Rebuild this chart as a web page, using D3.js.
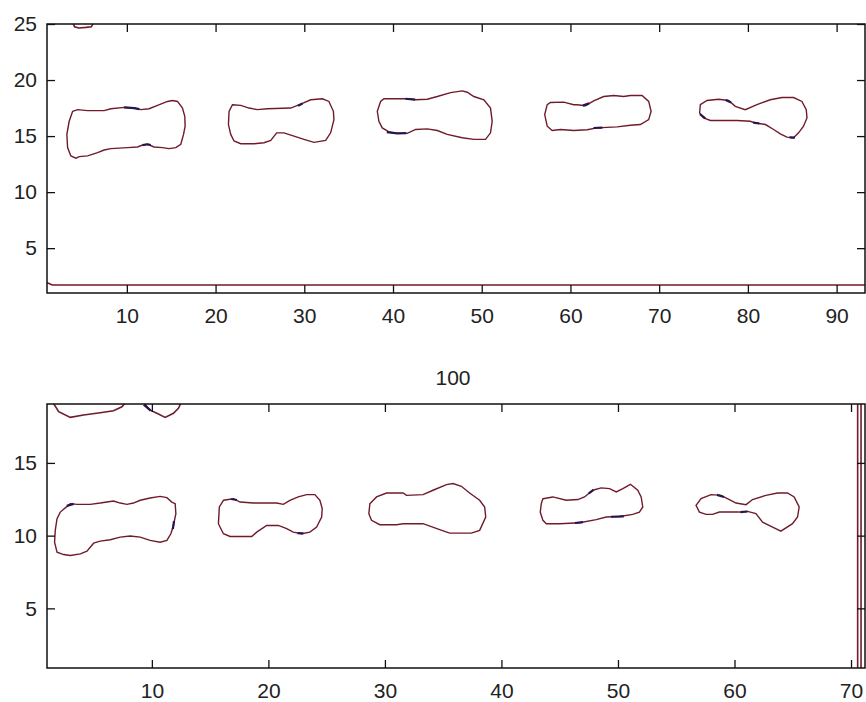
<!DOCTYPE html>
<html>
<head>
  <meta charset="UTF-8">
  <style>
    body { margin: 0; background: #fff; }
    text { font-family: "Liberation Sans", Arial, sans-serif; }
  </style>
</head>
<body>
<script src="https://d3js.org/d3.v7.min.js"></script>
<div id="my_dataviz"></div>
<script>

// ---- data (in axis units) ----
var topXTicks = [10, 20, 30, 40, 50, 60, 70, 80, 90];
var topYTicks = [5, 10, 15, 20, 25];
var botXTicks = [10, 20, 30, 40, 50, 60, 70];
var botYTicks = [5, 10, 15];
var botTitle = "100";

// closed contours, top panel
var topBlob1 = [[3.89,17.21],[4.45,17.36],[5.57,17.27],[7.44,17.27],[8.2,17.44],[9.7,17.56],[10.82,17.5],[11.58,17.36],[12.51,17.44],[13.46,17.74],[14.58,18.09],[15.15,18.18],[15.71,18.09],[16.27,17.5],[16.53,16.77],[16.57,15.88],[16.39,15.15],[16.08,14.27],[15.52,13.97],[14.76,13.88],[14.02,13.97],[13.07,14.03],[12.33,14.27],[11.77,14.2],[11.2,14.03],[10.08,13.97],[8.2,13.88],[7.44,13.76],[6.7,13.53],[5.57,13.23],[4.63,13.17],[4.26,13.03],[3.69,13.23],[3.32,13.97],[3.24,15.15],[3.5,16.32]];
var topBlob2 = [[21.9,17.8],[22.84,17.74],[23.77,17.5],[24.72,17.36],[25.84,17.44],[28.47,17.5],[29.6,17.85],[30.72,18.24],[32.04,18.33],[32.78,18.09],[33.28,17.21],[33.34,16.47],[32.97,15.29],[32.41,14.62],[31.09,14.44],[29.97,14.71],[28.84,15.0],[27.71,15.29],[26.89,15.29],[26.22,14.62],[25.46,14.41],[24.34,14.32],[22.84,14.32],[22.08,14.56],[21.71,15.15],[21.45,16.03],[21.52,17.21]];
var topBlob3 = [[38.98,18.33],[41.6,18.33],[42.55,18.24],[43.86,18.29],[44.99,18.53],[46.49,18.88],[47.8,19.03],[48.37,18.91],[49.11,18.53],[50.24,18.24],[50.99,17.5],[51.18,16.32],[50.99,15.29],[50.43,14.71],[49.11,14.71],[47.8,14.85],[46.11,15.15],[44.99,15.5],[43.86,15.64],[42.55,15.59],[41.6,15.24],[40.48,15.24],[39.54,15.38],[38.79,15.73],[38.41,16.32],[38.23,17.21],[38.6,18.09]];
var topBlob4 = [[57.75,18.0],[59.25,18.03],[60.37,17.8],[60.75,17.8],[61.69,17.71],[62.62,18.15],[63.75,18.53],[64.88,18.62],[66.0,18.53],[66.76,18.62],[68.07,18.62],[68.82,18.09],[69.09,17.21],[68.82,16.47],[67.88,16.03],[66.76,15.97],[65.26,15.82],[63.0,15.73],[61.88,15.56],[60.37,15.5],[58.87,15.59],[57.94,15.5],[57.38,15.88],[57.1,16.92],[57.38,17.8]];
var topBlob5 = [[74.64,17.8],[75.39,18.18],[76.7,18.29],[77.83,18.18],[78.58,17.65],[79.71,17.36],[81.02,17.8],[82.52,18.24],[83.84,18.44],[85.15,18.44],[86.09,18.09],[86.58,17.36],[86.66,16.62],[86.27,15.88],[85.71,15.29],[85.15,14.85],[84.4,14.91],[83.65,15.2],[82.9,15.59],[81.98,16.03],[80.83,16.17],[80.27,16.32],[78.77,16.39],[75.77,16.39],[75.01,16.62],[74.56,17.06]];
var topBlobs = [topBlob1, topBlob2, topBlob3, topBlob4, topBlob5];

// open contours touching the top panel edges
var topOpen = [
  [[3.9,25.2],[4.1,24.75],[4.6,24.65],[5.4,24.7],[6.0,24.75],[6.3,25.2]],
  [[0.8,2.0],[1.6,1.72],[93.5,1.72]]
];
// short darker (second level) pieces, top panel
var topDark = [
  [[9.7,17.56],[10.82,17.5],[11.4,17.4]],
  [[11.77,14.2],[12.33,14.27],[12.7,14.2]],
  [[29.3,17.7],[29.8,17.9]],
  [[41.4,18.33],[42.5,18.25]],
  [[39.3,15.36],[40.48,15.24],[41.5,15.26]],
  [[61.4,17.72],[62.1,17.92]],
  [[62.6,15.72],[63.6,15.76]],
  [[77.5,18.22],[78.1,18.0]],
  [[74.6,16.95],[75.2,16.58]],
  [[80.6,16.2],[81.3,16.12]],
  [[84.7,14.88],[85.3,14.86]]
];

// closed contours, bottom panel
var botBlob1 = [[3.0,12.2],[3.57,12.15],[4.71,12.15],[5.57,12.24],[6.71,12.38],[7.28,12.24],[7.86,12.15],[8.42,12.24],[9.0,12.43],[9.85,12.59],[10.71,12.7],[11.29,12.61],[11.71,12.31],[12.0,12.2],[12.06,11.51],[11.85,10.7],[11.63,10.13],[11.29,9.67],[10.71,9.55],[9.85,9.67],[9.0,9.9],[8.14,9.97],[7.28,9.9],[6.43,9.72],[5.57,9.62],[5.0,9.48],[4.43,8.93],[3.86,8.75],[3.0,8.63],[2.43,8.7],[1.86,8.86],[1.65,9.55],[1.71,10.36],[1.86,11.17],[2.14,11.62],[2.72,12.01]];
var botBlob2 = [[16.14,12.43],[16.99,12.54],[17.57,12.31],[18.71,12.24],[20.71,12.24],[21.28,12.15],[21.85,12.43],[22.56,12.66],[23.28,12.82],[23.99,12.82],[24.42,12.43],[24.62,11.86],[24.57,11.28],[24.14,10.59],[23.56,10.24],[22.85,10.13],[22.13,10.24],[21.57,10.48],[20.85,10.7],[19.85,10.7],[19.0,10.24],[18.57,9.94],[16.71,9.94],[16.14,10.13],[15.71,10.82],[15.79,11.97]];
var botBlob3 = [[28.71,12.2],[29.28,12.66],[30.14,12.93],[31.56,12.93],[31.85,12.77],[33.27,12.82],[34.13,13.12],[35.28,13.51],[35.84,13.58],[36.56,13.39],[37.27,12.93],[38.13,12.43],[38.56,11.97],[38.65,11.28],[38.13,10.36],[37.42,10.17],[35.56,10.17],[34.7,10.41],[33.27,10.82],[31.56,10.82],[31.0,10.75],[29.56,10.75],[28.85,11.05],[28.62,11.51]];
var botBlob4 = [[43.56,12.54],[44.41,12.66],[45.56,12.43],[46.56,12.48],[47.13,12.66],[47.84,13.12],[48.56,13.28],[49.28,13.23],[49.85,13.0],[50.42,13.23],[51.07,13.53],[51.7,13.12],[51.99,12.66],[52.13,11.97],[51.84,11.62],[51.27,11.46],[50.13,11.32],[48.99,11.28],[48.13,11.1],[46.7,10.89],[44.99,10.82],[43.85,10.82],[43.56,11.05],[43.33,11.62],[43.42,12.2]];
var botBlob5 = [[56.7,12.08],[57.13,12.54],[57.99,12.82],[58.84,12.77],[59.56,12.48],[60.13,12.24],[60.99,12.13],[61.55,12.48],[62.7,12.77],[63.69,12.93],[64.55,12.93],[65.12,12.66],[65.55,11.97],[65.41,11.28],[64.98,10.82],[63.98,10.31],[63.27,10.59],[62.41,10.93],[61.84,11.51],[61.12,11.67],[60.41,11.62],[58.7,11.62],[58.12,11.46],[57.56,11.46],[56.99,11.62]];
var botBlobs = [botBlob1, botBlob2, botBlob3, botBlob4, botBlob5];

// open contours touching the bottom panel edges
var botOpen = [
  [[1.4,19.3],[2.0,18.52],[3.0,18.13],[4.14,18.29],[5.57,18.45],[6.71,18.59],[7.43,18.86],[7.9,19.3]],
  [[9.1,19.3],[9.85,18.63],[10.43,18.41],[11.14,18.13],[11.85,18.41],[12.28,18.75],[12.6,19.3]],
  [[70.57,0.5],[70.57,19.5]],
  [[70.86,0.5],[70.86,19.5]]
];
var botDark = [
  [[2.7,12.05],[3.3,12.18]],
  [[11.9,11.0],[11.8,10.45]],
  [[16.8,12.52],[17.3,12.45]],
  [[22.5,10.17],[23.0,10.15]],
  [[46.3,10.87],[47.0,10.93]],
  [[49.4,11.3],[50.5,11.33]],
  [[47.5,12.9],[47.9,13.14]],
  [[58.5,12.8],[59.1,12.66]],
  [[60.5,11.62],[61.1,11.66]],
  [[9.3,19.0],[9.9,18.6]]
];

// ---- drawing ----
var W = 866, H = 702;
var svg = d3.select("#my_dataviz")
  .append("svg")
    .attr("width", W)
    .attr("height", H);

svg.append("rect").attr("width", W).attr("height", H).attr("fill", "#fff");

var lineColor = "#6f1b2b";
var darkColor = "#241650";

function drawPanel(id, box, xDomain, yDomain, xTicks, yTicks, blobs, open, dark, title) {
  var x = d3.scaleLinear().domain(xDomain).range([box.left, box.right]);
  var y = d3.scaleLinear().domain(yDomain).range([box.bottom, box.top]);

  svg.append("clipPath").attr("id", id)
    .append("rect")
      .attr("x", box.left).attr("y", box.top)
      .attr("width", box.right - box.left)
      .attr("height", box.bottom - box.top);

  var g = svg.append("g").attr("clip-path", "url(#" + id + ")");

  var closed = d3.line().x(function(d) { return x(d[0]); }).y(function(d) { return y(d[1]); })
    .curve(d3.curveLinearClosed);
  var openLine = d3.line().x(function(d) { return x(d[0]); }).y(function(d) { return y(d[1]); });

  g.selectAll(".blob").data(blobs).enter()
    .append("path")
      .attr("d", closed)
      .attr("fill", "none")
      .attr("stroke", lineColor)
      .attr("stroke-width", 1.4);

  g.selectAll(".open").data(open).enter()
    .append("path")
      .attr("d", openLine)
      .attr("fill", "none")
      .attr("stroke", lineColor)
      .attr("stroke-width", 1.6);

  g.selectAll(".dark").data(dark).enter()
    .append("path")
      .attr("d", openLine)
      .attr("fill", "none")
      .attr("stroke", darkColor)
      .attr("stroke-width", 2.2);

  // axes: ticks inside, on all four sides (box on)
  var tl = 8;
  var ax = svg.append("g");
  ax.append("g").attr("transform", "translate(0," + box.bottom + ")")
    .call(d3.axisBottom(x).tickValues(xTicks).tickSizeInner(-tl).tickSizeOuter(0).tickPadding(tl + 7));
  ax.append("g").attr("transform", "translate(0," + box.top + ")")
    .call(d3.axisTop(x).tickValues(xTicks).tickSizeInner(-tl).tickSizeOuter(0).tickFormat(""));
  ax.append("g").attr("transform", "translate(" + box.left + ",0)")
    .call(d3.axisLeft(y).tickValues(yTicks).tickSizeInner(-tl).tickSizeOuter(0).tickPadding(tl + 2));
  ax.append("g").attr("transform", "translate(" + box.right + ",0)")
    .call(d3.axisRight(y).tickValues(yTicks).tickSizeInner(-tl).tickSizeOuter(0).tickFormat(""));

  ax.selectAll(".domain").remove();
  ax.selectAll(".tick line").attr("stroke", "#111").attr("stroke-width", 1.3);
  ax.selectAll(".tick text")
    .attr("fill", "#222")
    .style("font-size", "21px");

  ax.append("rect")
    .attr("x", box.left).attr("y", box.top)
    .attr("width", box.right - box.left)
    .attr("height", box.bottom - box.top)
    .attr("fill", "none")
    .attr("stroke", "#111")
    .attr("stroke-width", 1.5);

  if (title) {
    svg.append("text")
      .attr("x", (box.left + box.right) / 2 - 3)
      .attr("y", box.top - 19)
      .attr("text-anchor", "middle")
      .attr("fill", "#222")
      .style("font-size", "21px")
      .text(title);
  }
}

drawPanel("clipTop", {left: 47, top: 24, right: 865, bottom: 293},
  [1, 93.2], [1, 25], topXTicks, topYTicks, topBlobs, topOpen, topDark, null);
drawPanel("clipBot", {left: 47, top: 404, right: 865, bottom: 668},
  [1, 71.2], [0.9, 19.05], botXTicks, botYTicks, botBlobs, botOpen, botDark, botTitle);

</script>
</body>
</html>
